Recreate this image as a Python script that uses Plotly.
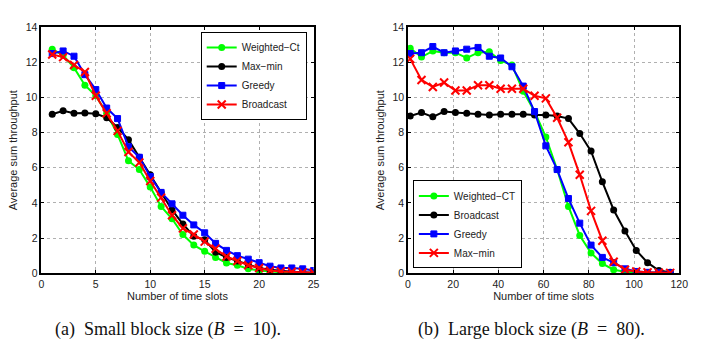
import plotly.graph_objects as go

# ---------------- data: (a) small block size B = 10 ----------------
slots_a = list(range(1, 26))
wct_a = [12.75, 12.4, 11.7, 10.7, 10.1, 9.1, 7.9, 6.4, 5.9, 4.9, 3.8, 3.1, 2.2,
         1.6, 1.25, 0.9, 0.58, 0.45, 0.25, 0.15, 0.08, 0.05, 0.03, 0.02, 0.01]
maxmin_a = [9.05, 9.25, 9.1, 9.12, 9.08, 8.85, 8.3, 7.6, 6.6, 5.6, 4.6, 3.6, 2.8,
            2.1, 1.9, 1.2, 0.9, 0.7, 0.5, 0.3, 0.2, 0.12, 0.08, 0.05, 0.03]
greedy_a = [12.5, 12.65, 12.35, 11.3, 10.45, 9.4, 8.8, 7.2, 6.6, 5.5, 4.6, 3.95, 3.3,
            2.75, 2.3, 1.7, 1.3, 1.0, 0.8, 0.6, 0.4, 0.3, 0.3, 0.25, 0.15]
bcast_a = [12.45, 12.3, 11.85, 11.45, 10.1, 9.1, 8.1, 6.9, 6.3, 5.25, 4.3, 3.3, 2.55,
           2.2, 1.8, 1.4, 0.95, 0.7, 0.45, 0.3, 0.15, 0.1, 0.08, 0.05, 0.03]

# ---------------- data: (b) large block size B = 80 ----------------
slots_b = list(range(1, 117, 5))
wct_b = [12.8, 12.3, 12.65, 12.55, 12.55, 12.25, 12.55, 12.6, 12.1, 11.85, 10.35, 9.2,
         7.75, 5.9, 3.8, 2.15, 1.15, 0.55, 0.2, 0.08, 0.05, 0.03, 0.02, 0.01]
bcast_b = [8.95, 9.15, 8.9, 9.2, 9.15, 9.1, 9.05, 9.0, 9.05, 9.05, 9.05, 9.0,
           9.0, 8.95, 8.8, 7.95, 6.95, 5.2, 3.6, 2.4, 1.3, 0.6, 0.15, 0.05]
greedy_b = [12.5, 12.55, 12.9, 12.55, 12.65, 12.75, 12.85, 12.35, 12.25, 11.75, 10.65, 9.2,
            7.25, 5.9, 4.25, 2.85, 1.6, 0.9, 0.6, 0.25, 0.1, 0.05, 0.03, 0.02]
maxmin_b = [12.2, 11.0, 10.6, 10.85, 10.4, 10.4, 10.7, 10.7, 10.5, 10.5, 10.5, 10.1,
            9.95, 8.85, 7.45, 5.6, 3.55, 1.85, 0.65, 0.2, 0.1, 0.05, 0.03, 0.02]

xticks_a = [0, 5, 10, 15, 20, 25]
xticks_b = [0, 20, 40, 60, 80, 100, 120]
yticks = [0, 2, 4, 6, 8, 10, 12, 14]

captions = ["(a)&nbsp;&nbsp;Small block size (<i>B</i>&nbsp;&nbsp;=&nbsp;&nbsp;10).",
            "(b)&nbsp;&nbsp;Large block size (<i>B</i>&nbsp;&nbsp;=&nbsp;&nbsp;80)."]

GREEN, BLACK, BLUE, RED = "#00ff00", "#000000", "#0000ff", "#ff0000"
W, H = 701, 340

def style(color, kind):
    if kind == "circle":
        return dict(line=dict(color=color, width=2),
                    marker=dict(symbol="circle", size=7, color=color))
    if kind == "square":
        return dict(line=dict(color=color, width=2),
                    marker=dict(symbol="square", size=6, color=color,
                                line=dict(color=color, width=1)))
    return dict(line=dict(color=color, width=2),
                marker=dict(symbol="x-thin", size=8, color=color,
                            line=dict(color=color, width=2)))

fig = go.Figure()
series_a = [("Weighted\u2212Ct", wct_a, GREEN, "circle"),
            ("Max\u2212min", maxmin_a, BLACK, "circle"),
            ("Greedy", greedy_a, BLUE, "square"),
            ("Broadcast", bcast_a, RED, "x")]
for name, ys, c, k in series_a:
    fig.add_trace(go.Scatter(x=slots_a, y=ys, name=name, mode="lines+markers",
                             xaxis="x", yaxis="y", legend="legend", **style(c, k)))

series_b = [("Weighted\u2212CT", wct_b, GREEN, "circle"),
            ("Broadcast", bcast_b, BLACK, "circle"),
            ("Greedy", greedy_b, BLUE, "square"),
            ("Max\u2212min", maxmin_b, RED, "x")]
for name, ys, c, k in series_b:
    fig.add_trace(go.Scatter(x=slots_b, y=ys, name=name, mode="lines+markers",
                             xaxis="x2", yaxis="y2", legend="legend2", **style(c, k)))

SANS = "Liberation Sans, Arial, sans-serif"
tickfont = dict(family=SANS, size=10.5, color="#222")
titlefont = dict(family=SANS, size=11, color="#222")
ydom = [(H - 277) / H, (H - 22) / H]

def xax(dom, rng, ticks, anchor):
    return dict(domain=dom, range=rng, tickvals=ticks, anchor=anchor,
                showline=True, linecolor="black", linewidth=1.5, mirror="ticks",
                ticks="inside", ticklen=3, tickcolor="black",
                showgrid=True, gridcolor="#b0b0b0", griddash="dot", gridwidth=1,
                zeroline=False, tickfont=tickfont,
                title=dict(text="Number of time slots", font=titlefont, standoff=4))

def yax(anchor):
    return dict(domain=ydom, range=[0, 14], tickvals=yticks, anchor=anchor,
                showline=True, linecolor="black", linewidth=1.5, mirror="ticks",
                ticks="inside", ticklen=3, tickcolor="black",
                showgrid=True, gridcolor="#b0b0b0", griddash="dot", gridwidth=1,
                zeroline=False, tickfont=tickfont,
                title=dict(text="Average sum throughput", font=titlefont, standoff=6))

legfont = dict(family=SANS, size=10, color="#222")
capfont = dict(family="Liberation Serif, Times New Roman, serif", size=18, color="#111")
fig.update_layout(
    width=W, height=H, margin=dict(l=0, r=0, t=0, b=0),
    paper_bgcolor="white", plot_bgcolor="white", showlegend=True,
    xaxis=xax([39 / W, 316 / W], [0, 25], xticks_a, "y"),
    yaxis=yax("x"),
    xaxis2=xax([412 / W, 688 / W], [0, 120], xticks_b, "y2"),
    yaxis2=yax("x2"),
    legend=dict(x=309 / W, y=(H - 27) / H, xanchor="right", yanchor="top",
                bgcolor="white", bordercolor="black", borderwidth=1,
                font=legfont, tracegroupgap=0, itemwidth=30),
    legend2=dict(x=417 / W, y=(H - 272) / H, xanchor="left", yanchor="bottom",
                 bgcolor="white", bordercolor="black", borderwidth=1,
                 font=legfont, tracegroupgap=0, itemwidth=30),
    annotations=[
        dict(text=captions[0], x=168 / W, y=(H - 335) / H, xref="paper", yref="paper",
             showarrow=False, xanchor="center", yanchor="middle", font=capfont),
        dict(text=captions[1], x=538 / W, y=(H - 335) / H, xref="paper", yref="paper",
             showarrow=False, xanchor="center", yanchor="middle", font=capfont),
    ],
)

fig.write_html("out.html")
